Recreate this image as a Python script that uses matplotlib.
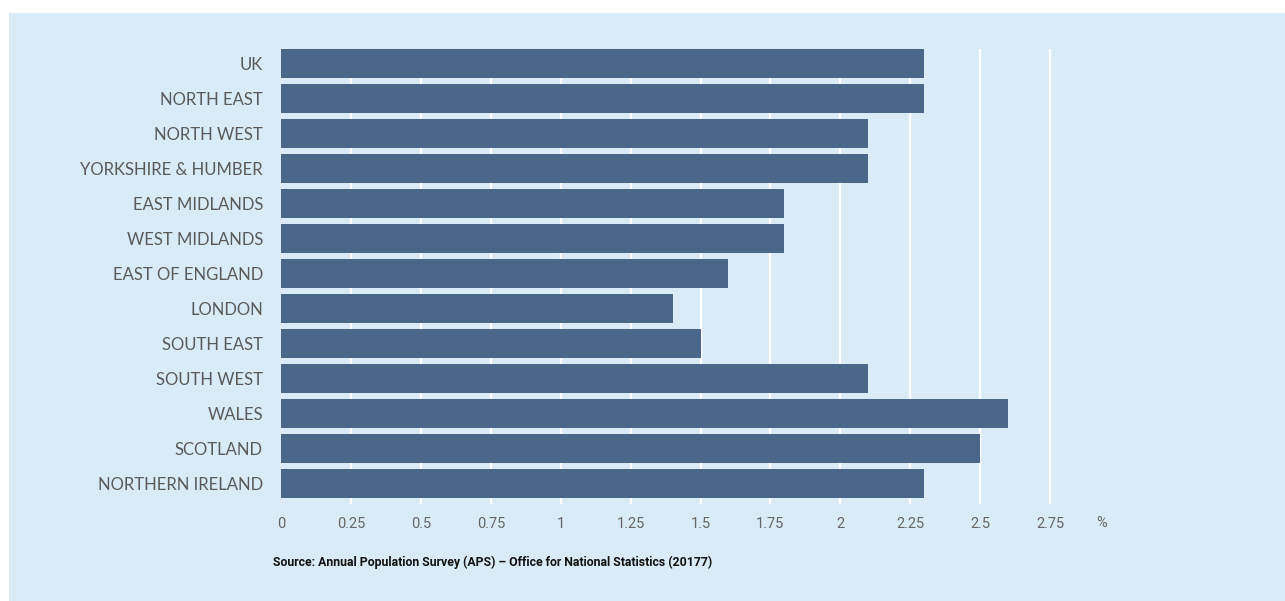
import matplotlib.pyplot as plt
from matplotlib.patches import Rectangle

regions = ["UK", "NORTH EAST", "NORTH WEST", "YORKSHIRE & HUMBER", "EAST MIDLANDS",
           "WEST MIDLANDS", "EAST OF ENGLAND", "LONDON", "SOUTH EAST", "SOUTH WEST",
           "WALES", "SCOTLAND", "NORTHERN IRELAND"]
values = [2.3, 2.3, 2.1, 2.1, 1.8, 1.8, 1.6, 1.4, 1.5, 2.1, 2.6, 2.5, 2.3]
ticks = [0, 0.25, 0.5, 0.75, 1, 1.25, 1.5, 1.75, 2, 2.25, 2.5, 2.75]
tick_labels = ["0", "0.25", "0.5", "0.75", "1", "1.25", "1.5", "1.75", "2", "2.25", "2.5", "2.75"]

panel = "#daebf8"
bar_col = "#4a6789"
narrow = ["Roboto", "DejaVu Sans"]

fig = plt.figure(figsize=(12.85, 6.01), dpi=100)
fig.patches.append(Rectangle((9 / 1285, 0), 1, 1 - 13 / 601, transform=fig.transFigure,
                             facecolor=panel, edgecolor="none", zorder=-5))

ax = fig.add_axes([281 / 1285, 1 - 504 / 601, 839 / 1285, 455 / 601])
ax.set_zorder(2)
ax.patch.set_alpha(0)

# vertical gridlines, white
for t in ticks:
    ax.axvline(t, color="#e6ecef" if t == 0 else "white", lw=1.6, zorder=1)

ax.barh(range(len(regions)), values, height=0.83, color=bar_col, zorder=2)
ax.set_ylim(12.585, -0.415)
ax.set_xlim(0, 3.0)

ax.set_yticks(range(len(regions)))
ax.set_yticklabels(regions, fontsize=12, color="#5a5a5a", family=["Lato", "DejaVu Sans"])
ax.set_xticks(ticks)
ax.set_xticklabels(tick_labels, fontsize=10.5, color="#666666", family=narrow)
ax.tick_params(length=0, axis="y", pad=13)
ax.tick_params(length=0, axis="x", pad=9)
for s in ax.spines.values():
    s.set_visible(False)

ax.text(2.935, -19 / 455, "%", transform=ax.get_xaxis_transform(), ha="center", va="center",
        fontsize=10.5, color="#666666", family=narrow)

fig.text(273 / 1285, 1 - 562 / 601, "Source: Annual Population Survey (APS) \u2013 Office for National Statistics (20177)",
         ha="left", va="center", fontsize=8.8, fontweight="bold", color="#111111", family=narrow)

fig.savefig("out.png", dpi=100)
